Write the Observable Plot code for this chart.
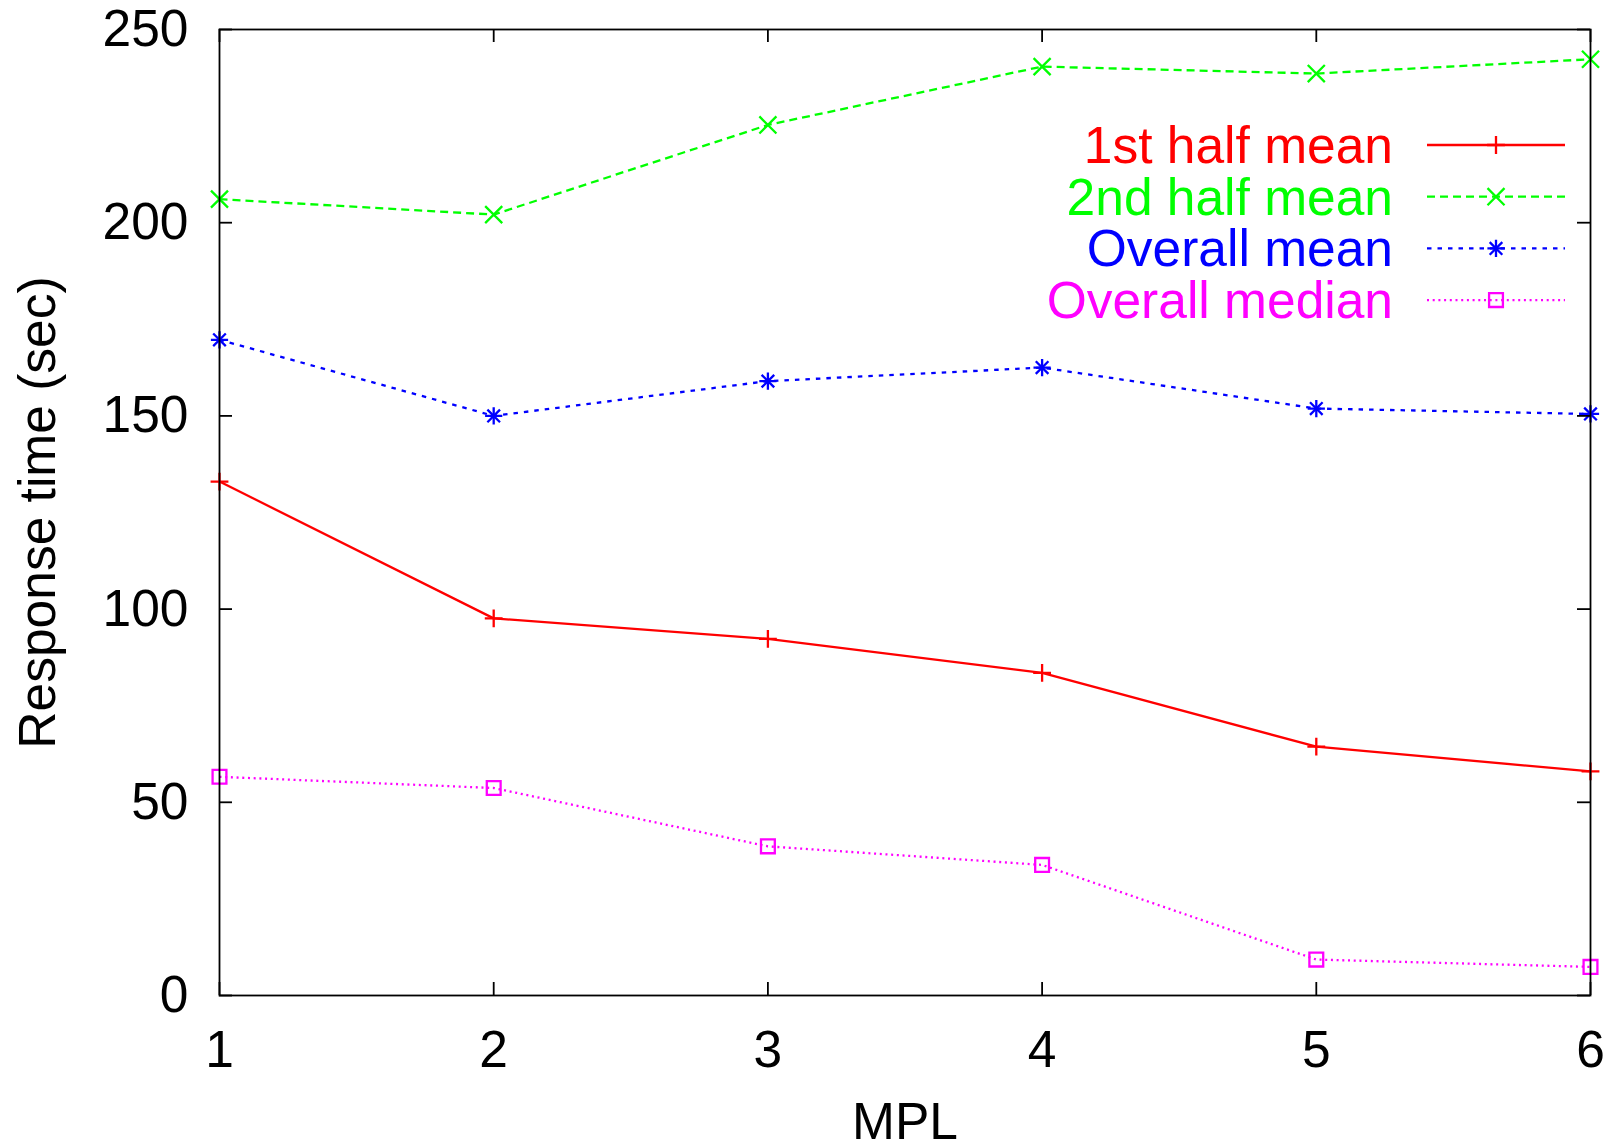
<!DOCTYPE html>
<html>
<head>
<meta charset="utf-8">
<script src="https://cdn.jsdelivr.net/npm/d3@7"></script>
<script src="https://cdn.jsdelivr.net/npm/@observablehq/plot@0.6"></script>
<style>
  html, body { margin: 0; padding: 0; background: #fff; }
  #chart svg { display: block; }
</style>
</head>
<body>
<div id="chart"></div>
<script>
// ---- Data ----
const mpl = [1, 2, 3, 4, 5, 6];
const firstHalfMean  = [133.0, 97.6, 92.3, 83.5, 64.4, 58.0];
const secondHalfMean = [206.1, 202.1, 225.3, 240.4, 238.6, 242.3];
const overallMean    = [169.7, 150.0, 159.0, 162.5, 151.9, 150.5];
const overallMedian  = [56.6, 53.7, 38.6, 33.8, 9.3, 7.4];
const seriesNames = ["1st half mean", "2nd half mean", "Overall mean", "Overall median"];
const xTicks = [1, 2, 3, 4, 5, 6];
const yTicks = [0, 50, 100, 150, 200, 250];
const xLabel = "MPL";
const yLabel = "Response time (sec)";

// ---- Styles ----
// each series: colour, dash pattern, list of marker symbols (overlaid) with radii
const styles = [
  {color: "#ff0000", dash: null,     symbols: [["plus", 5.8]]},
  {color: "#00ff00", dash: "8,5",    symbols: [["times", 7.8]]},
  {color: "#0000ff", dash: "4.5,6",  symbols: [["plus", 5.6], ["times", 5.8]]},
  {color: "#ff00ff", dash: "2,3.7",  symbols: [["square2", 8.8]]}
];
const seriesValues = [firstHalfMean, secondHalfMean, overallMean, overallMedian];

const W = 1612, H = 1148;
const ML = 219, MR = 22, MT = 29, MB = 153;
const plotW = W - ML - MR, plotH = H - MT - MB;
const tick = 13;
const lw = 2.3;
const fontSize = 51.5;
const font = "'Liberation Sans', Arial, Helvetica, sans-serif";

const rows = [];
seriesNames.forEach((name, i) => {
  mpl.forEach((m, j) => rows.push({series: name, idx: i, x: m, y: seriesValues[i][j]}));
});

const marks = [];
// Series lines + markers
seriesNames.forEach((name, i) => {
  const s = styles[i];
  const data = rows.filter(d => d.idx === i);
  marks.push(Plot.line(data, {x: "x", y: "y", stroke: s.color, strokeWidth: lw,
    strokeDasharray: s.dash, strokeLinecap: "butt"}));
  s.symbols.forEach(([sym, r]) => {
    marks.push(Plot.dot(data, {x: "x", y: "y", symbol: () => sym, r,
      stroke: s.color, strokeWidth: lw, fill: "none"}));
  });
});
// Inward ticks on all four sides
marks.push(Plot.ruleY(yTicks, {y: d => d, insetRight: plotW - tick, stroke: "black", strokeWidth: 1.8}));
marks.push(Plot.ruleY(yTicks, {y: d => d, insetLeft: plotW - tick, stroke: "black", strokeWidth: 1.8}));
marks.push(Plot.ruleX(xTicks, {x: d => d, insetTop: plotH - tick, stroke: "black", strokeWidth: 1.8}));
marks.push(Plot.ruleX(xTicks, {x: d => d, insetBottom: plotH - tick, stroke: "black", strokeWidth: 1.8}));
// Axes labels
marks.push(Plot.axisY(yTicks, {anchor: "left", tickSize: 0, tickPadding: 31, tickFormat: d3.format("d"),
  label: yLabel, labelAnchor: "center", labelOffset: 201, labelArrow: "none"}));
marks.push(Plot.axisX(xTicks, {anchor: "bottom", tickSize: 0, tickPadding: 35, tickFormat: d3.format("d"),
  label: xLabel, labelAnchor: "center", labelOffset: 143, labelArrow: "none"}));
marks.push(Plot.frame({stroke: "black", strokeWidth: 1.8}));

const chart = Plot.plot({
  width: W, height: H,
  marginLeft: ML, marginRight: MR, marginTop: MT, marginBottom: MB,
  x: {domain: [1, 6], type: "linear"},
  y: {domain: [0, 250], type: "linear"},
  style: {fontFamily: font, fontSize: fontSize + "px", color: "black", background: "white"},
  marks
});
document.getElementById("chart").appendChild(chart);

// ---- Legend (inside plot, top right) ----
const svg = d3.select(chart);
const leg = svg.append("g").attr("class", "legend");
const legTextRight = 1393, legLineX1 = 1427, legLineX2 = 1565, legMarkX = 1496;
const legY0 = 145, legStep = 51.7;
const symMap = {plus: d3.symbolPlus, times: d3.symbolTimes, asterisk: d3.symbolAsterisk, square2: d3.symbolSquare2};
seriesNames.forEach((name, i) => {
  const s = styles[i];
  const y = legY0 + i * legStep;
  leg.append("text")
    .attr("x", legTextRight).attr("y", y + 18)
    .attr("text-anchor", "end")
    .attr("font-family", font).attr("font-size", fontSize)
    .attr("fill", s.color)
    .text(name);
  leg.append("line")
    .attr("x1", legLineX1).attr("x2", legLineX2).attr("y1", y).attr("y2", y)
    .attr("stroke", s.color).attr("stroke-width", lw)
    .attr("stroke-dasharray", s.dash);
  s.symbols.forEach(([sym, r]) => {
    leg.append("path")
      .attr("transform", `translate(${legMarkX},${y})`)
      .attr("d", d3.symbol(symMap[sym], Math.PI * r * r)())
      .attr("fill", "none").attr("stroke", s.color).attr("stroke-width", lw);
  });
});
</script>
</body>
</html>
